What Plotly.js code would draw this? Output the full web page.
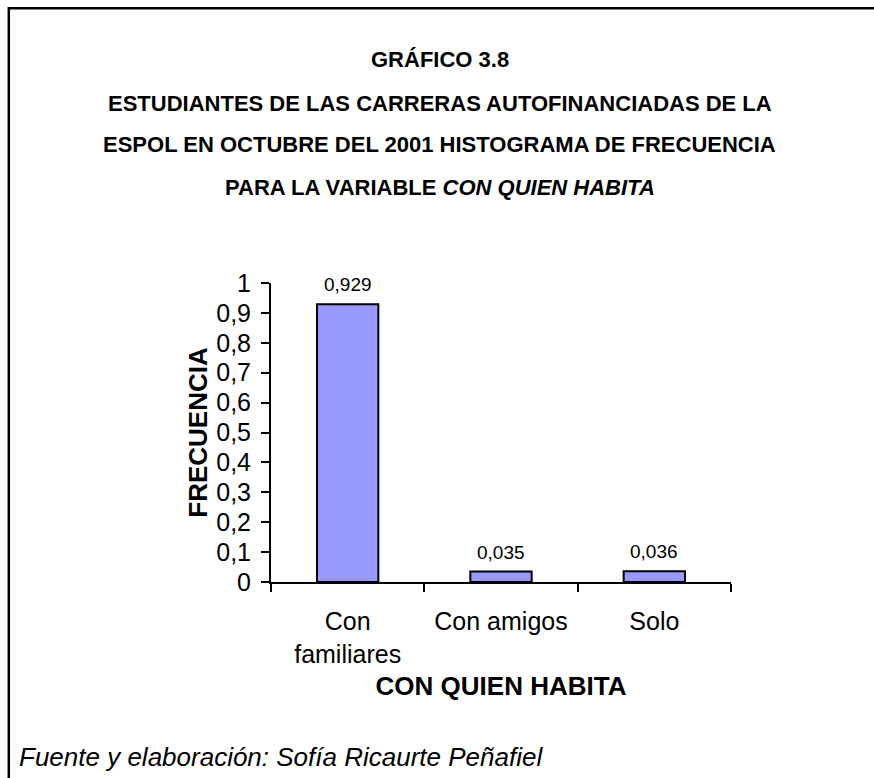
<!DOCTYPE html>
<html>
<head>
<meta charset="utf-8">
<script src="https://cdn.plot.ly/plotly-3.0.1.min.js"></script>
<style>
html,body{margin:0;padding:0;background:#fff;}
#chart{width:874px;height:778px;}
</style>
</head>
<body>
<div id="chart"></div>
<script>
// Data
const categories = ["Con<br>familiares", "Con amigos", "Solo"];
const frecuencia = [0.929, 0.035, 0.036];
const valueLabels = ["0,929", "0,035", "0,036"];
const yTickVals = [0, 0.1, 0.2, 0.3, 0.4, 0.5, 0.6, 0.7, 0.8, 0.9, 1];
const yTickText = ["0", "0,1", "0,2", "0,3", "0,4", "0,5", "0,6", "0,7", "0,8", "0,9", "1"];
const titleLines = [
  "GRÁFICO 3.8",
  "ESTUDIANTES DE LAS CARRERAS AUTOFINANCIADAS DE LA",
  "ESPOL EN OCTUBRE DEL 2001 HISTOGRAMA DE FRECUENCIA",
  "PARA LA VARIABLE <i>CON QUIEN HABITA</i>"
];
const footnote = "<i>Fuente y elaboración: Sofía Ricaurte Peñafiel</i>";

const FONT = "Liberation Sans, Arial, sans-serif";

const trace = {
  type: "bar",
  x: categories,
  y: frecuencia,
  width: 0.4,
  marker: {color: "#9999FF", line: {color: "#000", width: 2}},
  hoverinfo: "x+y"
};

const titleY = [1.746, 1.602, 1.462, 1.321];
const annotations = titleLines.map((t, i) => ({
  text: "<b>" + t + "</b>",
  xref: "paper", yref: "paper",
  x: 0.367, y: titleY[i],
  xanchor: "center", yanchor: "middle",
  showarrow: false,
  font: {family: FONT, size: 22, color: "#000"}
}));

categories.forEach((c, i) => {
  annotations.push({
    text: valueLabels[i],
    x: c, y: frecuencia[i],
    xref: "x", yref: "y",
    yanchor: "bottom", yshift: 7,
    showarrow: false,
    font: {family: FONT, size: 19, color: "#000"}
  });
});

annotations.push({
  text: footnote,
  xref: "paper", yref: "paper",
  x: -0.552, y: -0.585,
  xanchor: "left", yanchor: "middle",
  showarrow: false,
  font: {family: FONT, size: 26, color: "#000"}
});

const layout = {
  width: 874, height: 778,
  margin: {l: 271, r: 143, t: 283, b: 196, pad: 0},
  paper_bgcolor: "#fff", plot_bgcolor: "#fff",
  showlegend: false,
  font: {family: FONT, color: "#000"},
  xaxis: {
    type: "category",
    showgrid: false, zeroline: false,
    showline: true, linecolor: "#000", linewidth: 2,
    ticks: "outside", tickson: "boundaries", ticklen: 8, tickwidth: 2, tickcolor: "#000",
    tickfont: {family: FONT, size: 25, color: "#000"},
    ticklabelstandoff: 16,
    title: {text: "<b>CON QUIEN HABITA</b>", font: {family: FONT, size: 26, color: "#000"}, standoff: 10},
    automargin: false,
    fixedrange: true
  },
  yaxis: {
    range: [0, 1],
    tickvals: yTickVals, ticktext: yTickText,
    showgrid: false, zeroline: false,
    showline: true, linecolor: "#000", linewidth: 2,
    ticks: "outside", ticklen: 8, tickwidth: 2, tickcolor: "#000",
    tickfont: {family: FONT, size: 25, color: "#000"},
    ticklabelstandoff: 5,
    title: {text: "<b>FRECUENCIA</b>", font: {family: FONT, size: 26, color: "#000"}, standoff: 1},
    automargin: false,
    fixedrange: true
  },
  annotations: annotations,
  shapes: [{
    type: "path",
    xref: "paper", yref: "paper",
    path: "M -0.570 -0.75 L -0.570 1.919 L 1.4 1.919",
    line: {color: "#000", width: 2.5}
  }]
};

Plotly.newPlot("chart", [trace], layout, {displayModeBar: false, staticPlot: true});
</script>
</body>
</html>
